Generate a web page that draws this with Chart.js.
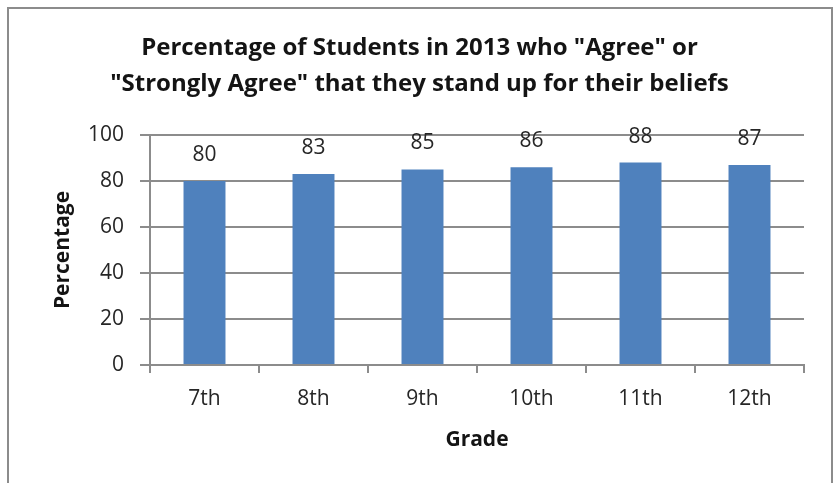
<!DOCTYPE html>
<html><head><meta charset="utf-8">
<script src="https://cdn.jsdelivr.net/npm/chart.js@4.4.1/dist/chart.umd.min.js"></script>
<style>
html,body{margin:0;padding:0;background:#fff;width:839px;height:483px;overflow:hidden}
#frame{position:absolute;left:7px;top:7px;width:826px;height:500px;border:2px solid #8c8c8c;box-sizing:border-box}
#c{position:absolute;left:0;top:0}
</style></head>
<body>
<div id="frame"></div>
<canvas id="c" width="839" height="483"></canvas>
<script>
const categories = ["7th","8th","9th","10th","11th","12th"];
const percentages = [80,83,85,86,88,87];
const yTicks = [0,20,40,60,80,100];
const titleLines = ['Percentage of Students in 2013 who "Agree" or','"Strongly Agree" that they stand up for their beliefs'];

const FONT = "'Open Sans', sans-serif";
const labelPlugin = {
  id:'barLabels',
  afterDatasetsDraw(chart){
    const ctx = chart.ctx;
    const meta = chart.getDatasetMeta(0);
    ctx.save();
    ctx.font = "21px " + FONT;
    ctx.fillStyle = "#262626";
    ctx.textAlign = "center";
    ctx.textBaseline = "middle";
    meta.data.forEach((bar,i)=>{
      ctx.fillText(String(percentages[i]), bar.x, bar.y - 26);
    });
    ctx.restore();
  }
};

new Chart(document.getElementById('c'), {
  type:'bar',
  data:{labels:categories, datasets:[{data:percentages, backgroundColor:'#4f81bd', borderWidth:0, categoryPercentage:1, barPercentage:0.385}]},
  plugins:[labelPlugin],
  options:{
    responsive:false, animation:false,
    layout:{padding:{left:35,right:35,top:0,bottom:0}},
    plugins:{
      legend:{display:false}, tooltip:{enabled:false},
      title:{display:true, text:titleLines, color:'#141414',
        font:{family:FONT, size:24, weight:'bold', lineHeight:1.5},
        padding:{top:30,bottom:33}}
    },
    scales:{
      x:{
        grid:{display:true, drawOnChartArea:false, drawTicks:true, tickLength:8, color:'#8c8c8c', lineWidth:2, offset:true},
        border:{display:true, color:'#8c8c8c', width:2},
        ticks:{color:'#262626', font:{family:FONT, size:21}, padding:13},
        title:{display:true, text:'Grade', color:'#141414', font:{family:FONT, size:21, weight:'bold'}, padding:{top:0,bottom:30}},
        afterFit(s){ s.height = 118; }
      },
      y:{
        min:0, max:100,
        afterBuildTicks(s){ s.ticks = yTicks.map(v=>({value:v})); },
        grid:{color:'#8c8c8c', lineWidth:2, tickLength:10, drawTicks:true},
        border:{display:true, color:'#8c8c8c', width:2},
        ticks:{color:'#262626', font:{family:FONT, size:21}, padding:16},
        title:{display:true, text:'Percentage', color:'#141414', font:{family:FONT, size:21, weight:'bold'}, padding:{top:15,bottom:0}},
        afterFit(s){ s.width = 115; }
      }
    }
  }
});
</script>
</body></html>
